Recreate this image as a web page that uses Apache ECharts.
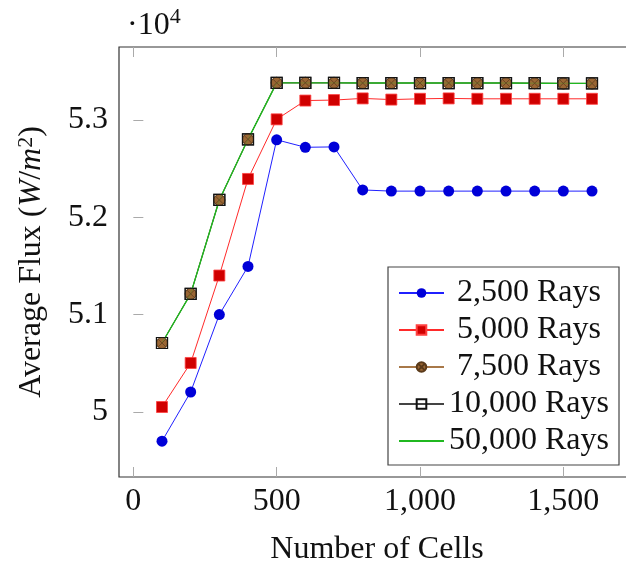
<!DOCTYPE html>
<html>
<head>
<meta charset="utf-8">
<script src="https://cdn.jsdelivr.net/npm/echarts@6/dist/echarts.min.js"></script>
<style>html,body{margin:0;padding:0;background:#fff;}#c{width:626px;height:564px;}</style>
</head>
<body>
<div id="c"></div>
<script>
// Number of cells (x values)
const cells = [100, 200, 300, 400, 500, 600, 700, 800, 900, 1000, 1100, 1200, 1300, 1400, 1500, 1600];
// Average flux (W/m^2) for each ray count
const rays2500  = [49700, 50205, 51000, 51494, 52795, 52718, 52722, 52280, 52268, 52268, 52268, 52268, 52268, 52268, 52268, 52268];
const rays5000  = [50051, 50503, 51401, 52393, 53005, 53198, 53203, 53220, 53208, 53216, 53220, 53216, 53216, 53216, 53216, 53216];
const rays7500  = [50708, 51213, 52177, 52800, 53380, 53380, 53380, 53378, 53378, 53378, 53378, 53378, 53378, 53376, 53374, 53374];
const rays10000 = [50708, 51213, 52177, 52800, 53380, 53380, 53380, 53378, 53378, 53378, 53378, 53378, 53378, 53376, 53374, 53374];
const rays50000 = [50708, 51213, 52177, 52800, 53380, 53380, 53380, 53378, 53378, 53378, 53378, 53378, 53378, 53376, 53374, 53374];
const seriesNames = ['2,500 Rays', '5,000 Rays', '7,500 Rays', '10,000 Rays', '50,000 Rays'];
const xTicks = [0, 500, 1000, 1500];
const yTicks = [50000, 51000, 52000, 53000];

const pair = arr => cells.map((c, i) => [c, arr[i]]);
const FONT = 'Liberation Serif';
const FS = 32;
const otimes = 'path://M0,-10A10,10,0,1,1,0,10A10,10,0,1,1,0,-10Z M-7.07,-7.07L7.07,7.07 M-7.07,7.07L7.07,-7.07';

const chart = echarts.init(document.getElementById('c'), null, {renderer: 'canvas'});
chart.setOption({
  animation: false,
  backgroundColor: '#fff',
  grid: {left: 119, right: -9, top: 47, bottom: 87, show: true, borderColor: '#333', borderWidth: 1.2,
         backgroundColor: 'transparent', containLabel: false, outerBoundsMode: 'none'},
  graphic: [{
    type: 'text', left: 127, top: 6,
    style: {
      text: '{a|·10}{s|4}',
      rich: {
        a: {fontFamily: FONT, fontSize: FS, fill: '#111', verticalAlign: 'bottom', lineHeight: 36},
        s: {fontFamily: FONT, fontSize: 22, fill: '#111', verticalAlign: 'top', lineHeight: 36}
      }
    }
  }],
  legend: {
    orient: 'vertical', left: 388, top: 267,
    padding: [10, 10, 8, 10],
    backgroundColor: '#fff', borderColor: '#444', borderWidth: 1.2,
    itemWidth: 45, itemHeight: 12, itemGap: 5, itemTextGap: 8,
    data: seriesNames.map((n, i) => i === 4 ? {name: n, itemStyle: {opacity: 0}} : n),
    formatter: n => '{c|' + n + '}',
    textStyle: {
      fontFamily: FONT, fontSize: FS, color: '#111', lineHeight: 30,
      rich: {c: {fontFamily: FONT, fontSize: FS, color: '#111', lineHeight: 30, width: 160, align: 'center'}}
    }
  },
  xAxis: [{
    type: 'value', min: -50, max: 1750, position: 'bottom',
    axisLine: {show: false},
    splitLine: {show: false},
    axisTick: {inside: true, length: 10, lineStyle: {color: '#aaa', width: 1}, customValues: xTicks},
    axisLabel: {
      customValues: xTicks, margin: 9,
      fontFamily: FONT, fontSize: FS, color: '#111',
      formatter: v => v.toLocaleString('en-US')
    },
    name: 'Number of Cells', nameLocation: 'middle', nameGap: 57,
    nameTextStyle: {fontFamily: FONT, fontSize: FS, color: '#111'}
  }, {
    type: 'value', min: -50, max: 1750, position: 'top',
    axisLine: {show: false}, splitLine: {show: false},
    axisTick: {inside: true, length: 10, lineStyle: {color: '#aaa', width: 1}, customValues: xTicks},
    axisLabel: {show: false}
  }],
  yAxis: {
    type: 'value', min: 49332, max: 53748,
    axisLine: {show: false},
    splitLine: {show: false},
    axisTick: {inside: true, length: 10, lineStyle: {color: '#aaa', width: 1}, customValues: yTicks},
    axisLabel: {
      customValues: yTicks, margin: 11,
      fontFamily: FONT, fontSize: FS, color: '#111',
      formatter: v => String(v / 10000)
    },
    name: 'Average Flux ({i|W}/{i|m}{s|2})', nameLocation: 'middle', nameGap: 70, nameRotate: 90,
    nameTextStyle: {
      fontFamily: FONT, fontSize: FS, color: '#111',
      rich: {
        i: {fontFamily: FONT, fontSize: FS, fontStyle: 'italic', color: '#111'},
        s: {fontFamily: FONT, fontSize: 22, color: '#111', verticalAlign: 'top', padding: [0, 0, 12, 0]}
      }
    }
  },
  series: [
    {
      name: seriesNames[0], type: 'line', data: pair(rays2500), z: 2,
      symbol: 'circle', symbolSize: 11,
      lineStyle: {color: '#2020ff', width: 1},
      itemStyle: {color: '#0000d8'}
    },
    {
      name: seriesNames[1], type: 'line', data: pair(rays5000), z: 2,
      symbol: 'rect', symbolSize: 11,
      lineStyle: {color: '#ff2a2a', width: 1},
      itemStyle: {color: '#d00000', borderColor: '#ff4040', borderWidth: 0.8}
    },
    {
      name: seriesNames[2], type: 'line', data: pair(rays7500), z: 1,
      symbol: otimes, symbolSize: 11,
      lineStyle: {color: '#a87848', width: 1},
      itemStyle: {color: '#9a6634', borderColor: '#5a3a1a', borderWidth: 0.8}
    },
    {
      name: seriesNames[3], type: 'line', data: pair(rays10000), z: 1,
      symbol: 'rect', symbolSize: 11,
      lineStyle: {color: '#444', width: 1},
      itemStyle: {color: 'rgba(255,255,255,0)', borderColor: '#111', borderWidth: 1.2}
    },
    {
      name: seriesNames[4], type: 'line', data: pair(rays50000), z: 3,
      symbol: 'none',
      lineStyle: {color: '#20b820', width: 1.4},
      itemStyle: {color: '#20b820'}
    },
    {
      type: 'scatter', data: pair(rays7500), z: 4, silent: true,
      symbol: otimes, symbolSize: 11,
      itemStyle: {color: '#9a6634', borderColor: '#5a3a1a', borderWidth: 0.8}
    },
    {
      type: 'scatter', data: pair(rays10000), z: 5, silent: true,
      symbol: 'rect', symbolSize: 11,
      itemStyle: {color: 'rgba(255,255,255,0)', borderColor: '#111', borderWidth: 1.2}
    }
  ]
});
</script>
</body>
</html>
